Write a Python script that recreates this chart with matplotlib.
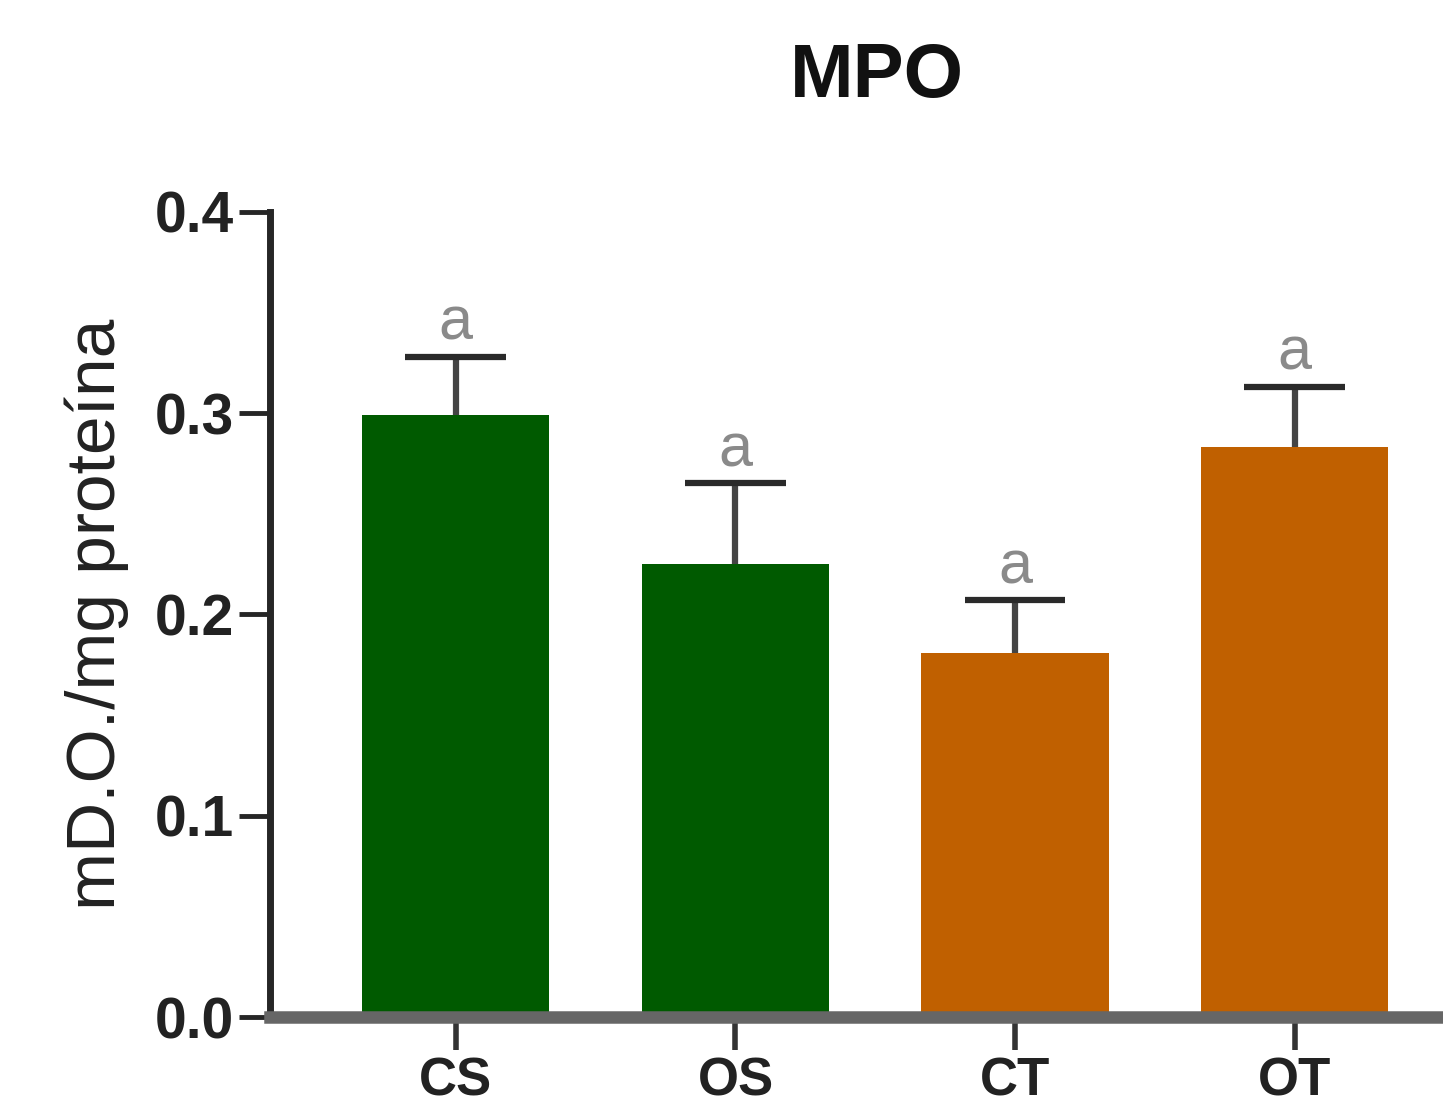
import matplotlib
matplotlib.use("Agg")
import matplotlib.pyplot as plt
import numpy as np

groups = ["CS", "OS", "CT", "OT"]
means = [0.299, 0.225, 0.181, 0.283]
sem = [0.029, 0.040, 0.026, 0.030]
letters = ["a", "a", "a", "a"]
colors = ["#005a00", "#005a00", "#c06000", "#c06000"]
yticks = [0.0, 0.1, 0.2, 0.3, 0.4]

plt.rcParams["font.family"] = ["Liberation Sans", "DejaVu Sans"]

fig = plt.figure(figsize=(14.43, 11.08), dpi=100)
ax = fig.add_axes([0.187, 0.082, 0.813, 0.727])

x = np.arange(len(groups))
ax.bar(x, means, width=0.67, color=colors, zorder=2)

# upper-only SEM whiskers with a cap
tops = np.array(means) + np.array(sem)
ax.vlines(x, means, tops, color="#444444", lw=4.5, zorder=3)
ax.hlines(tops, x - 0.18, x + 0.18, color="#2a2a2a", lw=4.5, zorder=3)

for xi, t, lab in zip(x, tops, letters):
    ax.annotate(lab, (xi, t), xytext=(0, 3), textcoords="offset points",
                ha="center", va="bottom", fontsize=44, color="#8a8a8a")

ax.set_xlim(-0.665, 3.53)
ax.set_ylim(0, 0.4)
ax.set_xticks(x)
ax.set_xticklabels(groups)
ax.set_yticks(yticks)
ax.set_yticklabels([f"{t:.1f}" for t in yticks])

for side in ["top", "right"]:
    ax.spines[side].set_visible(False)
ax.spines["left"].set_linewidth(5)
ax.spines["left"].set_color("#262626")
ax.spines["bottom"].set_linewidth(9)
ax.spines["bottom"].set_color("#666666")
ax.spines["bottom"].set_zorder(4)

ax.tick_params(axis="y", length=22, width=3.5, color="#262626", pad=4,
               labelsize=41, labelcolor="#222222")
ax.tick_params(axis="x", length=24, width=4, color="#333333", pad=4,
               labelsize=38, labelcolor="#222222")
for t in ax.get_xticklabels() + ax.get_yticklabels():
    t.set_fontweight("bold")

ax.set_ylabel("mD.O./mg proteína", fontsize=50, color="#222222", labelpad=18)
fig.text(0.608, 0.930, "MPO", ha="center", va="center", fontsize=55,
         fontweight="bold", color="#111111")

fig.savefig("out.png", dpi=100)
